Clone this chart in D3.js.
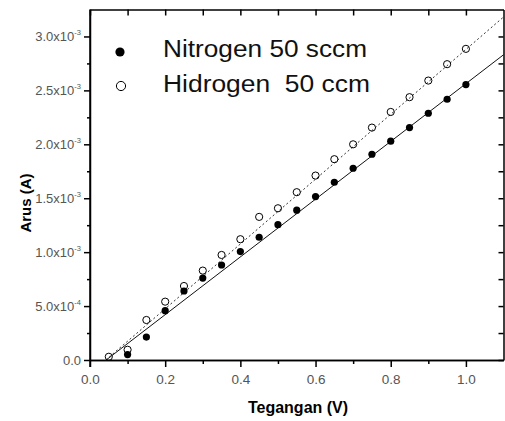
<!DOCTYPE html>
<html>
<head>
<meta charset="utf-8">
<script src="https://cdn.jsdelivr.net/npm/d3@7"></script>
<style>
  body { margin: 0; background: #fff; }
  svg { display: block; font-family: "Liberation Sans", Arial, sans-serif; }
</style>
</head>
<body>
<svg width="505" height="421"></svg>
<script>
const width = 505;
const height = 421;

// voltage steps (V)
const voltage = [0.05, 0.10, 0.15, 0.20, 0.25, 0.30, 0.35, 0.40, 0.45, 0.50,
                 0.55, 0.60, 0.65, 0.70, 0.75, 0.80, 0.85, 0.90, 0.95, 1.00];
// current (A), nitrogen has no visible point at 0.05
const nitrogen = [null, 5.0e-5, 2.13e-4, 4.57e-4, 6.4e-4, 7.6e-4, 8.81e-4, 1.005e-3, 1.138e-3, 1.255e-3,
                  1.389e-3, 1.515e-3, 1.648e-3, 1.778e-3, 1.908e-3, 2.029e-3, 2.155e-3, 2.288e-3, 2.418e-3, 2.554e-3];
const hydrogen = [3.0e-5, 9.5e-5, 3.71e-4, 5.41e-4, 6.86e-4, 8.29e-4, 9.74e-4, 1.12e-3, 1.327e-3, 1.407e-3,
                  1.556e-3, 1.71e-3, 1.862e-3, 2.0e-3, 2.155e-3, 2.3e-3, 2.437e-3, 2.591e-3, 2.743e-3, 2.885e-3];

// linear fits (end points)
const fitNitrogen = [[0.043, 0], [1.1, 2.83e-3]];
const fitHydrogen = [[0.042, 0], [1.1, 3.18e-3]];

const xTicks = [0, 0.2, 0.4, 0.6, 0.8, 1.0];
const xMinor = [0.1, 0.3, 0.5, 0.7, 0.9];
const yTicks = [0, 5e-4, 1e-3, 1.5e-3, 2e-3, 2.5e-3, 3e-3];
const yMinor = [2.5e-4, 7.5e-4, 1.25e-3, 1.75e-3, 2.25e-3, 2.75e-3];
const yLabels = [["0.0", ""], ["5.0x10", "-4"], ["1.0x10", "-3"], ["1.5x10", "-3"],
                 ["2.0x10", "-3"], ["2.5x10", "-3"], ["3.0x10", "-3"]];

const legendNames = ["Nitrogen 50 sccm", "Hidrogen  50 ccm"];

const mLeft = 90, mRight = 503.5, mTop = 9.5, mBottom = 360;

const svg = d3.select("svg").attr("width", width).attr("height", height);

const x = d3.scaleLinear().domain([0, 1.1]).range([mLeft, mRight]);
const y = d3.scaleLinear().domain([0, 3.25e-3]).range([mBottom, mTop]);

function styleAxis(g) {
  g.select(".domain").attr("stroke", "#000").attr("stroke-width", 1.5);
  g.selectAll(".tick line").attr("stroke", "#000").attr("stroke-width", 1.5);
}

// bottom axis
svg.append("g").attr("transform", `translate(0,${mBottom})`)
  .call(d3.axisBottom(x).tickValues(xMinor).tickSize(4).tickFormat("").tickSizeOuter(0))
  .call(styleAxis);
const xAx = svg.append("g").attr("transform", `translate(0,${mBottom})`)
  .call(d3.axisBottom(x).tickValues(xTicks).tickSize(7).tickSizeOuter(0)
        .tickFormat(d3.format(".1f")))
  .call(styleAxis);
xAx.selectAll("text").attr("fill", "#555").attr("font-size", 13.5)
  .attr("y", 14).attr("dy", "0.71em").attr("font-family", "Liberation Sans, Arial, sans-serif");

// top axis (ticks inward)
svg.append("g").attr("transform", `translate(0,${mTop})`)
  .call(d3.axisBottom(x).tickValues(xTicks.concat(xMinor)).tickSize(6).tickFormat("").tickSizeOuter(0))
  .call(styleAxis);

// left axis
svg.append("g").attr("transform", `translate(${mLeft},0)`)
  .call(d3.axisLeft(y).tickValues(yMinor).tickSize(3).tickFormat("").tickSizeOuter(0))
  .call(styleAxis);
const yAx = svg.append("g").attr("transform", `translate(${mLeft},0)`)
  .call(d3.axisLeft(y).tickValues(yTicks).tickSize(6).tickFormat("").tickSizeOuter(0))
  .call(styleAxis);
yAx.select(".domain").attr("d", `M0,${mBottom + 7}V${mTop}`);
yAx.selectAll(".tick").each(function(d, i) {
  const t = d3.select(this).select("text")
    .attr("x", -9).attr("dy", null).attr("y", 4.5)
    .attr("fill", "#555").attr("font-size", 13).attr("text-anchor", "end");
  t.text(null);
  t.append("tspan").text(yLabels[i][0]);
  if (yLabels[i][1]) {
    t.append("tspan").attr("font-size", 7.5).attr("dy", -6).text(yLabels[i][1]);
  }
});

// right axis (ticks inward)
svg.append("g").attr("transform", `translate(${mRight},0)`)
  .call(d3.axisRight(y).tickValues(yTicks.concat(yMinor)).tickSize(-5).tickFormat("").tickSizeOuter(0))
  .call(styleAxis);

// fit lines
const line = d3.line().x(d => x(d[0])).y(d => y(d[1]));
svg.append("path").datum(fitNitrogen).attr("d", line)
  .attr("fill", "none").attr("stroke", "#111").attr("stroke-width", 1);
svg.append("path").datum(fitHydrogen).attr("d", line)
  .attr("fill", "none").attr("stroke", "#333").attr("stroke-width", 1)
  .attr("stroke-dasharray", "2,2.5");

// points
const nData = voltage.map((v, i) => [v, nitrogen[i]]).filter(d => d[1] != null);
const hData = voltage.map((v, i) => [v, hydrogen[i]]);

svg.append("g").selectAll("circle").data(nData).join("circle")
  .attr("cx", d => x(d[0])).attr("cy", d => y(d[1])).attr("r", 3.6)
  .attr("fill", "#000");
svg.append("g").selectAll("circle").data(hData).join("circle")
  .attr("cx", d => x(d[0])).attr("cy", d => y(d[1])).attr("r", 3.6)
  .attr("fill", "none").attr("stroke", "#000").attr("stroke-width", 1);

// legend
const leg = svg.append("g");
leg.append("circle").attr("cx", 120).attr("cy", 52).attr("r", 4.6).attr("fill", "#000");
leg.append("circle").attr("cx", 121).attr("cy", 86).attr("r", 4.6)
  .attr("fill", "none").attr("stroke", "#000").attr("stroke-width", 1);
leg.selectAll("text").data(legendNames).join("text")
  .attr("x", 163).attr("y", (d, i) => 57 + i * 34.5)
  .attr("font-size", 23.5).attr("fill", "#111")
  .attr("textLength", (d, i) => i === 0 ? 204 : 207)
  .attr("lengthAdjust", "spacingAndGlyphs")
  .style("white-space", "pre")
  .text(d => d);

// axis titles
svg.append("text").attr("x", 298).attr("y", 413).attr("text-anchor", "middle")
  .attr("font-size", 16).attr("font-weight", "bold").text("Tegangan (V)");
svg.append("text").attr("transform", "translate(31,203) rotate(-90)")
  .attr("text-anchor", "middle").attr("font-size", 15).attr("font-weight", "bold")
  .text("Arus (A)");
</script>
</body>
</html>
